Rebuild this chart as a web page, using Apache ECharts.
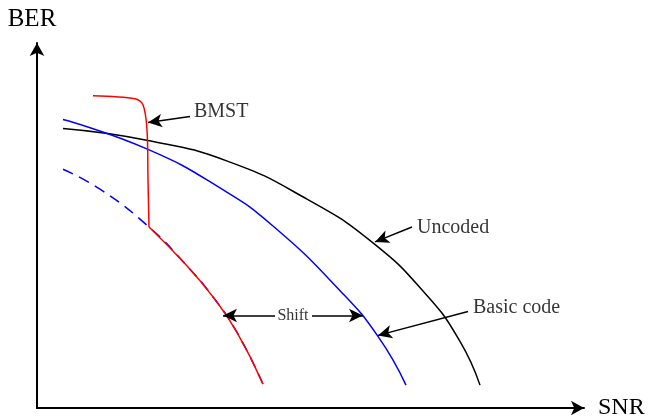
<!DOCTYPE html>
<html>
<head>
<meta charset="utf-8">
<script src="https://cdn.jsdelivr.net/npm/echarts@6/dist/echarts.min.js"></script>
<style>html,body{margin:0;padding:0;background:#fff}#c{width:650px;height:420px}</style>
</head>
<body>
<div id="c"></div>
<script>
// Curves (SNR, BER in arbitrary schematic units)
const uncoded = [[26,281],[111,269],[191,248],[270,210],[336,166],[390,113],[423,67],[443,23]];
const basicCode = [[26,290],[111,260],[185,220],[236,183],[303,118],[341,72],[369,23]];
const basicShifted = [[26,240],[63,220],[112,182],[148,145],[175,113],[200,76],[226,24]];
// BMST: waterfall part, then the part that follows the shifted curve
const bmstWaterfall = [[56,314],[98,311],[106,305],[110,280],[111,230],[112,182]];
const bmstTail = [[112,182],[148,145],[175,113],[200,76],[226,24]];

// Annotations
const labelTexts = ['BMST','Uncoded','Basic code'];
const labelPos = [[157,298],[380,181],[436,101]];
const arrowFrom = [[153,293],[375,182],[431,97],[238,93],[275,93]];
const arrowTo = [[111,287],[338,167],[341,73],[186,93],[326,93]];
const shiftText = 'Shift';
const shiftPos = [256,93];

const axisNames = ['SNR','BER'];
const xRange = [0,547];
const yRange = [0,367];

const serif = 'Liberation Serif, Times New Roman, serif';
const chart = echarts.init(document.getElementById('c'), null, {renderer:'canvas'});

function lineSeries(data, color, smooth, type){
  return {type:'line', data:data, smooth:smooth, symbol:'none', silent:true,
    lineStyle:{color:color, width:1.5, type:type||'solid'}, animation:false};
}

const labelData = labelPos.map((p,i)=>({value:[p[0],p[1]], name:labelTexts[i]}));
labelData.push({value:shiftPos, name:shiftText, label:{fontSize:16, position:'inside', align:'center'}});

chart.setOption({
  animation:false,
  grid:{left:37, top:43, right:66, bottom:10, containLabel:false},
  xAxis:{type:'value', min:xRange[0], max:xRange[1], name:axisNames[0], nameLocation:'end', nameGap:14,
    nameTextStyle:{fontFamily:serif, fontSize:24, color:'#000'},
    axisLine:{show:true, lineStyle:{color:'#000', width:2}, symbol:['none','arrow'], symbolSize:[11,13]},
    axisTick:{show:false}, axisLabel:{show:false}, splitLine:{show:false}},
  yAxis:{type:'value', min:yRange[0], max:yRange[1], name:axisNames[1], nameLocation:'end', nameGap:11,
    nameTextStyle:{fontFamily:serif, fontSize:25, color:'#000', padding:[0,10,0,0]},
    axisLine:{show:true, lineStyle:{color:'#000', width:2}, symbol:['none','arrow'], symbolSize:[11,13]},
    axisTick:{show:false}, axisLabel:{show:false}, splitLine:{show:false}},
  series:[
    lineSeries(uncoded,'#000000',0.5),
    lineSeries(basicCode,'#0000ff',0.5),
    lineSeries(basicShifted,'#0000ff',0.5,[11,7]),
    lineSeries(bmstWaterfall,'#ff0000',0.3),
    lineSeries(bmstTail,'#ff0000',0.5),
    {type:'scatter', symbolSize:0, silent:true,
      data: labelData,
      label:{show:true, formatter:p=>p.name, color:'#000', fontFamily:serif, fontSize:20, position:'right', distance:0, align:'left', verticalAlign:'middle'},
      markLine:{silent:true, symbol:['none','arrow'], symbolSize:[10,14], label:{show:false},
        lineStyle:{color:'#000', width:1.5, type:'solid'}, emphasis:{disabled:true},
        data: arrowFrom.map((f,i)=>[{coord:f},{coord:arrowTo[i]}])}
    }
  ]
});
</script>
</body>
</html>
